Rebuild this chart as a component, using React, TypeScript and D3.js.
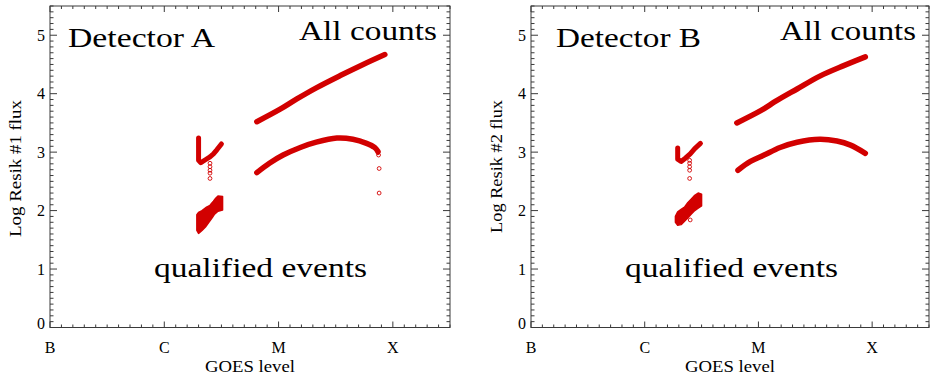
import React from "react";
import * as d3 from "d3";

type P = [number, number];

// GOES class labels at decades (B=0, C=1, M=2, X=3)
const goesLabels = ["B", "C", "M", "X"];
const goesMajor = [0, 1, 2, 3];
const yMajor = [0, 1, 2, 3, 4, 5];

// ---------------- Detector A ----------------
const allCountsA: P[] = [
  [1.81, 3.52], [2.01, 3.73], [2.16, 3.91], [2.33, 4.1],
  [2.54, 4.31], [2.74, 4.5], [2.93, 4.67],
];
const qualifiedA: P[] = [
  [1.81, 2.65], [1.92, 2.81], [2.04, 2.95], [2.19, 3.08], [2.33, 3.17],
  [2.51, 3.24], [2.65, 3.22], [2.77, 3.15], [2.84, 3.08], [2.87, 3.01],
];
const qualifiedTailA: P[] = [
  [2.87, 2.99], [2.875, 2.95], [2.88, 2.72], [2.88, 2.3],
];
const cUpperA: P[] = [
  [1.3, 3.24], [1.3, 2.86], [1.32, 2.82], [1.36, 2.87],
  [1.4, 2.92], [1.43, 2.97], [1.46, 3.04], [1.5, 3.14],
];
const cUpperCirclesA: P[] = [
  [1.4, 2.81], [1.4, 2.75], [1.4, 2.69], [1.4, 2.64], [1.4, 2.55],
];
const cLowerA: P[] = [
  [1.285, 1.66], [1.3, 1.61], [1.33, 1.66], [1.36, 1.72], [1.39, 1.8],
  [1.42, 1.88], [1.44, 1.94], [1.47, 1.99], [1.51, 2.01],
  [1.51, 2.24], [1.47, 2.25], [1.45, 2.21], [1.43, 2.16], [1.4, 2.09],
  [1.37, 2.06], [1.33, 2.0], [1.3, 1.97], [1.285, 1.93],
];
const cLowerCirclesA: P[] = [];

// ---------------- Detector B ----------------
const allCountsB: P[] = [
  [1.81, 3.5], [2.02, 3.71], [2.16, 3.88], [2.34, 4.08],
  [2.54, 4.3], [2.75, 4.48], [2.94, 4.63],
];
const qualifiedB: P[] = [
  [1.82, 2.69], [1.93, 2.84], [2.05, 2.95], [2.19, 3.08], [2.34, 3.17],
  [2.54, 3.22], [2.69, 3.19], [2.81, 3.12], [2.94, 2.98],
];
const qualifiedTailB: P[] = [];
const cUpperB: P[] = [
  [1.29, 3.07], [1.29, 2.88], [1.32, 2.84], [1.36, 2.9],
  [1.4, 2.97], [1.44, 3.06], [1.49, 3.15],
];
const cUpperCirclesB: P[] = [
  [1.395, 2.86], [1.395, 2.81], [1.395, 2.75], [1.395, 2.69], [1.395, 2.55],
];
const cLowerB: P[] = [
  [1.27, 1.8], [1.29, 1.75], [1.32, 1.76], [1.35, 1.82], [1.38, 1.88],
  [1.41, 1.94], [1.44, 2.0], [1.47, 2.04], [1.5, 2.08],
  [1.5, 2.28], [1.47, 2.3], [1.44, 2.26], [1.41, 2.2], [1.38, 2.14],
  [1.35, 2.06], [1.32, 2.02], [1.29, 1.98], [1.27, 1.9],
];
const cLowerCirclesB: P[] = [[1.4, 1.84]];

const RED = "#d20000";
const AXIS = "#3a3a3a";
const FONT = "Liberation Serif";

interface PanelCfg {
  x0: number; x1: number;
  title: string; titleX: number; titleLen: number;
  allX: number; allLen: number;
  qualX: number; qualLen: number;
  ylabel: string; ylabelX: number; ylabelY: number; ylabelLen: number;
  allCounts: P[]; qualified: P[]; tail: P[];
  cUpper: P[]; cUpperCircles: P[]; cLower: P[]; cLowerCircles: P[];
}

const panels: PanelCfg[] = [
  {
    x0: 50, x1: 450, title: "Detector A", titleX: 68, titleLen: 147,
    allX: 299, allLen: 138, qualX: 154, qualLen: 213,
    ylabel: "Log Resik #1 flux", ylabelX: 15, ylabelY: 168.5, ylabelLen: 137,
    allCounts: allCountsA, qualified: qualifiedA, tail: qualifiedTailA,
    cUpper: cUpperA, cUpperCircles: cUpperCirclesA, cLower: cLowerA, cLowerCircles: cLowerCirclesA,
  },
  {
    x0: 531, x1: 929, title: "Detector B", titleX: 556, titleLen: 145,
    allX: 780, allLen: 136, qualX: 625, qualLen: 213,
    ylabel: "Log Resik #2 flux", ylabelX: 496, ylabelY: 166.5, ylabelLen: 133,
    allCounts: allCountsB, qualified: qualifiedB, tail: qualifiedTailB,
    cUpper: cUpperB, cUpperCircles: cUpperCirclesB, cLower: cLowerB, cLowerCircles: cLowerCirclesB,
  },
];

const Y_TOP = 6;
const Y_BOT = 327.5;

function Panel({ cfg }: { cfg: PanelCfg }) {
  const x = d3.scaleLinear().domain([0, 3.5]).range([cfg.x0, cfg.x1]);
  const y = d3.scaleLinear().domain([0, 5.5]).range([Y_BOT, Y_TOP]);
  const xMinor = d3.range(0, 36).map((i) => i / 10);
  const yMinor = d3.range(0, 56).map((i) => i / 10);
  const line = d3.line<P>().x((d) => x(d[0])).y((d) => y(d[1])).curve(d3.curveCatmullRom);
  const poly = d3.line<P>().x((d) => x(d[0])).y((d) => y(d[1])).curve(d3.curveLinearClosed);
  const straight = d3.line<P>().x((d) => x(d[0])).y((d) => y(d[1]));
  const txt = { fontFamily: FONT, fill: "#000" } as React.CSSProperties;

  return (
    <g>
      {/* data */}
      <path d={line(cfg.allCounts) || ""} fill="none" stroke={RED} strokeWidth={5.5} strokeLinecap="round" strokeLinejoin="round" />
      <path d={line(cfg.qualified) || ""} fill="none" stroke={RED} strokeWidth={5.5} strokeLinecap="round" strokeLinejoin="round" />
      <path d={straight(cfg.cUpper) || ""} fill="none" stroke={RED} strokeWidth={5} strokeLinecap="round" strokeLinejoin="round" />
      <path d={poly(cfg.cLower) || ""} fill={RED} stroke={RED} strokeWidth={1.5} strokeLinejoin="round" />
      {[...cfg.tail, ...cfg.cUpperCircles, ...cfg.cLowerCircles].map((d, i) => (
        <circle key={i} cx={x(d[0])} cy={y(d[1])} r={1.9} fill="none" stroke={RED} strokeWidth={0.9} />
      ))}

      {/* frame */}
      <rect x={cfg.x0} y={Y_TOP} width={cfg.x1 - cfg.x0} height={Y_BOT - Y_TOP} fill="none" stroke={AXIS} strokeWidth={1} />
      {xMinor.map((v) => {
        const major = goesMajor.includes(Math.round(v)) && Math.abs(v - Math.round(v)) < 1e-6;
        const len = major ? 6 : 3;
        return (
          <g key={"xt" + v}>
            <line x1={x(v)} x2={x(v)} y1={Y_BOT} y2={Y_BOT - len} stroke={AXIS} />
            <line x1={x(v)} x2={x(v)} y1={Y_TOP} y2={Y_TOP + len} stroke={AXIS} />
          </g>
        );
      })}
      {yMinor.map((v) => {
        const major = Math.abs(v - Math.round(v)) < 1e-6;
        const len = major ? 7 : 3.5;
        return (
          <g key={"yt" + v}>
            <line x1={cfg.x0} x2={cfg.x0 + len} y1={y(v)} y2={y(v)} stroke={AXIS} />
            <line x1={cfg.x1} x2={cfg.x1 - len} y1={y(v)} y2={y(v)} stroke={AXIS} />
          </g>
        );
      })}

      {/* tick labels */}
      {yMajor.map((v) => (
        <text key={"yl" + v} x={cfg.x0 - 5} y={y(v) - (v === 0 ? 4.5 : 0)} dy="0.35em" textAnchor="end"
          style={txt} fontSize={16}>{v}</text>
      ))}
      {goesMajor.map((v, i) => (
        <text key={"xl" + v} x={x(v)} y={352.5} textAnchor="middle" style={txt} fontSize={16}>
          {goesLabels[i]}
        </text>
      ))}
      <text x={(cfg.x0 + cfg.x1) / 2} y={371.5} textAnchor="middle" style={txt} fontSize={16}
        textLength={90} lengthAdjust="spacingAndGlyphs">GOES level</text>
      <text transform={`translate(${cfg.ylabelX},${cfg.ylabelY}) rotate(-90)`} textAnchor="middle" dy="0.35em"
        style={txt} fontSize={16} textLength={cfg.ylabelLen} lengthAdjust="spacingAndGlyphs">
        {cfg.ylabel}
      </text>

      {/* annotations */}
      <text x={cfg.titleX} y={46.5} style={txt} fontSize={28} textLength={cfg.titleLen}
        lengthAdjust="spacingAndGlyphs">{cfg.title}</text>
      <text x={cfg.allX} y={39.5} style={txt} fontSize={28} textLength={cfg.allLen}
        lengthAdjust="spacingAndGlyphs">All counts</text>
      <text x={cfg.qualX} y={276.5} style={txt} fontSize={28} textLength={cfg.qualLen}
        lengthAdjust="spacingAndGlyphs">qualified events</text>
    </g>
  );
}

export default function App() {
  return (
    <svg width={938} height={377} style={{ position: "absolute", left: 0, top: 0, background: "#fff" }}>
      <rect x={0} y={0} width={938} height={377} fill="#fff" />
      {panels.map((p, i) => (
        <Panel key={i} cfg={p} />
      ))}
    </svg>
  );
}
